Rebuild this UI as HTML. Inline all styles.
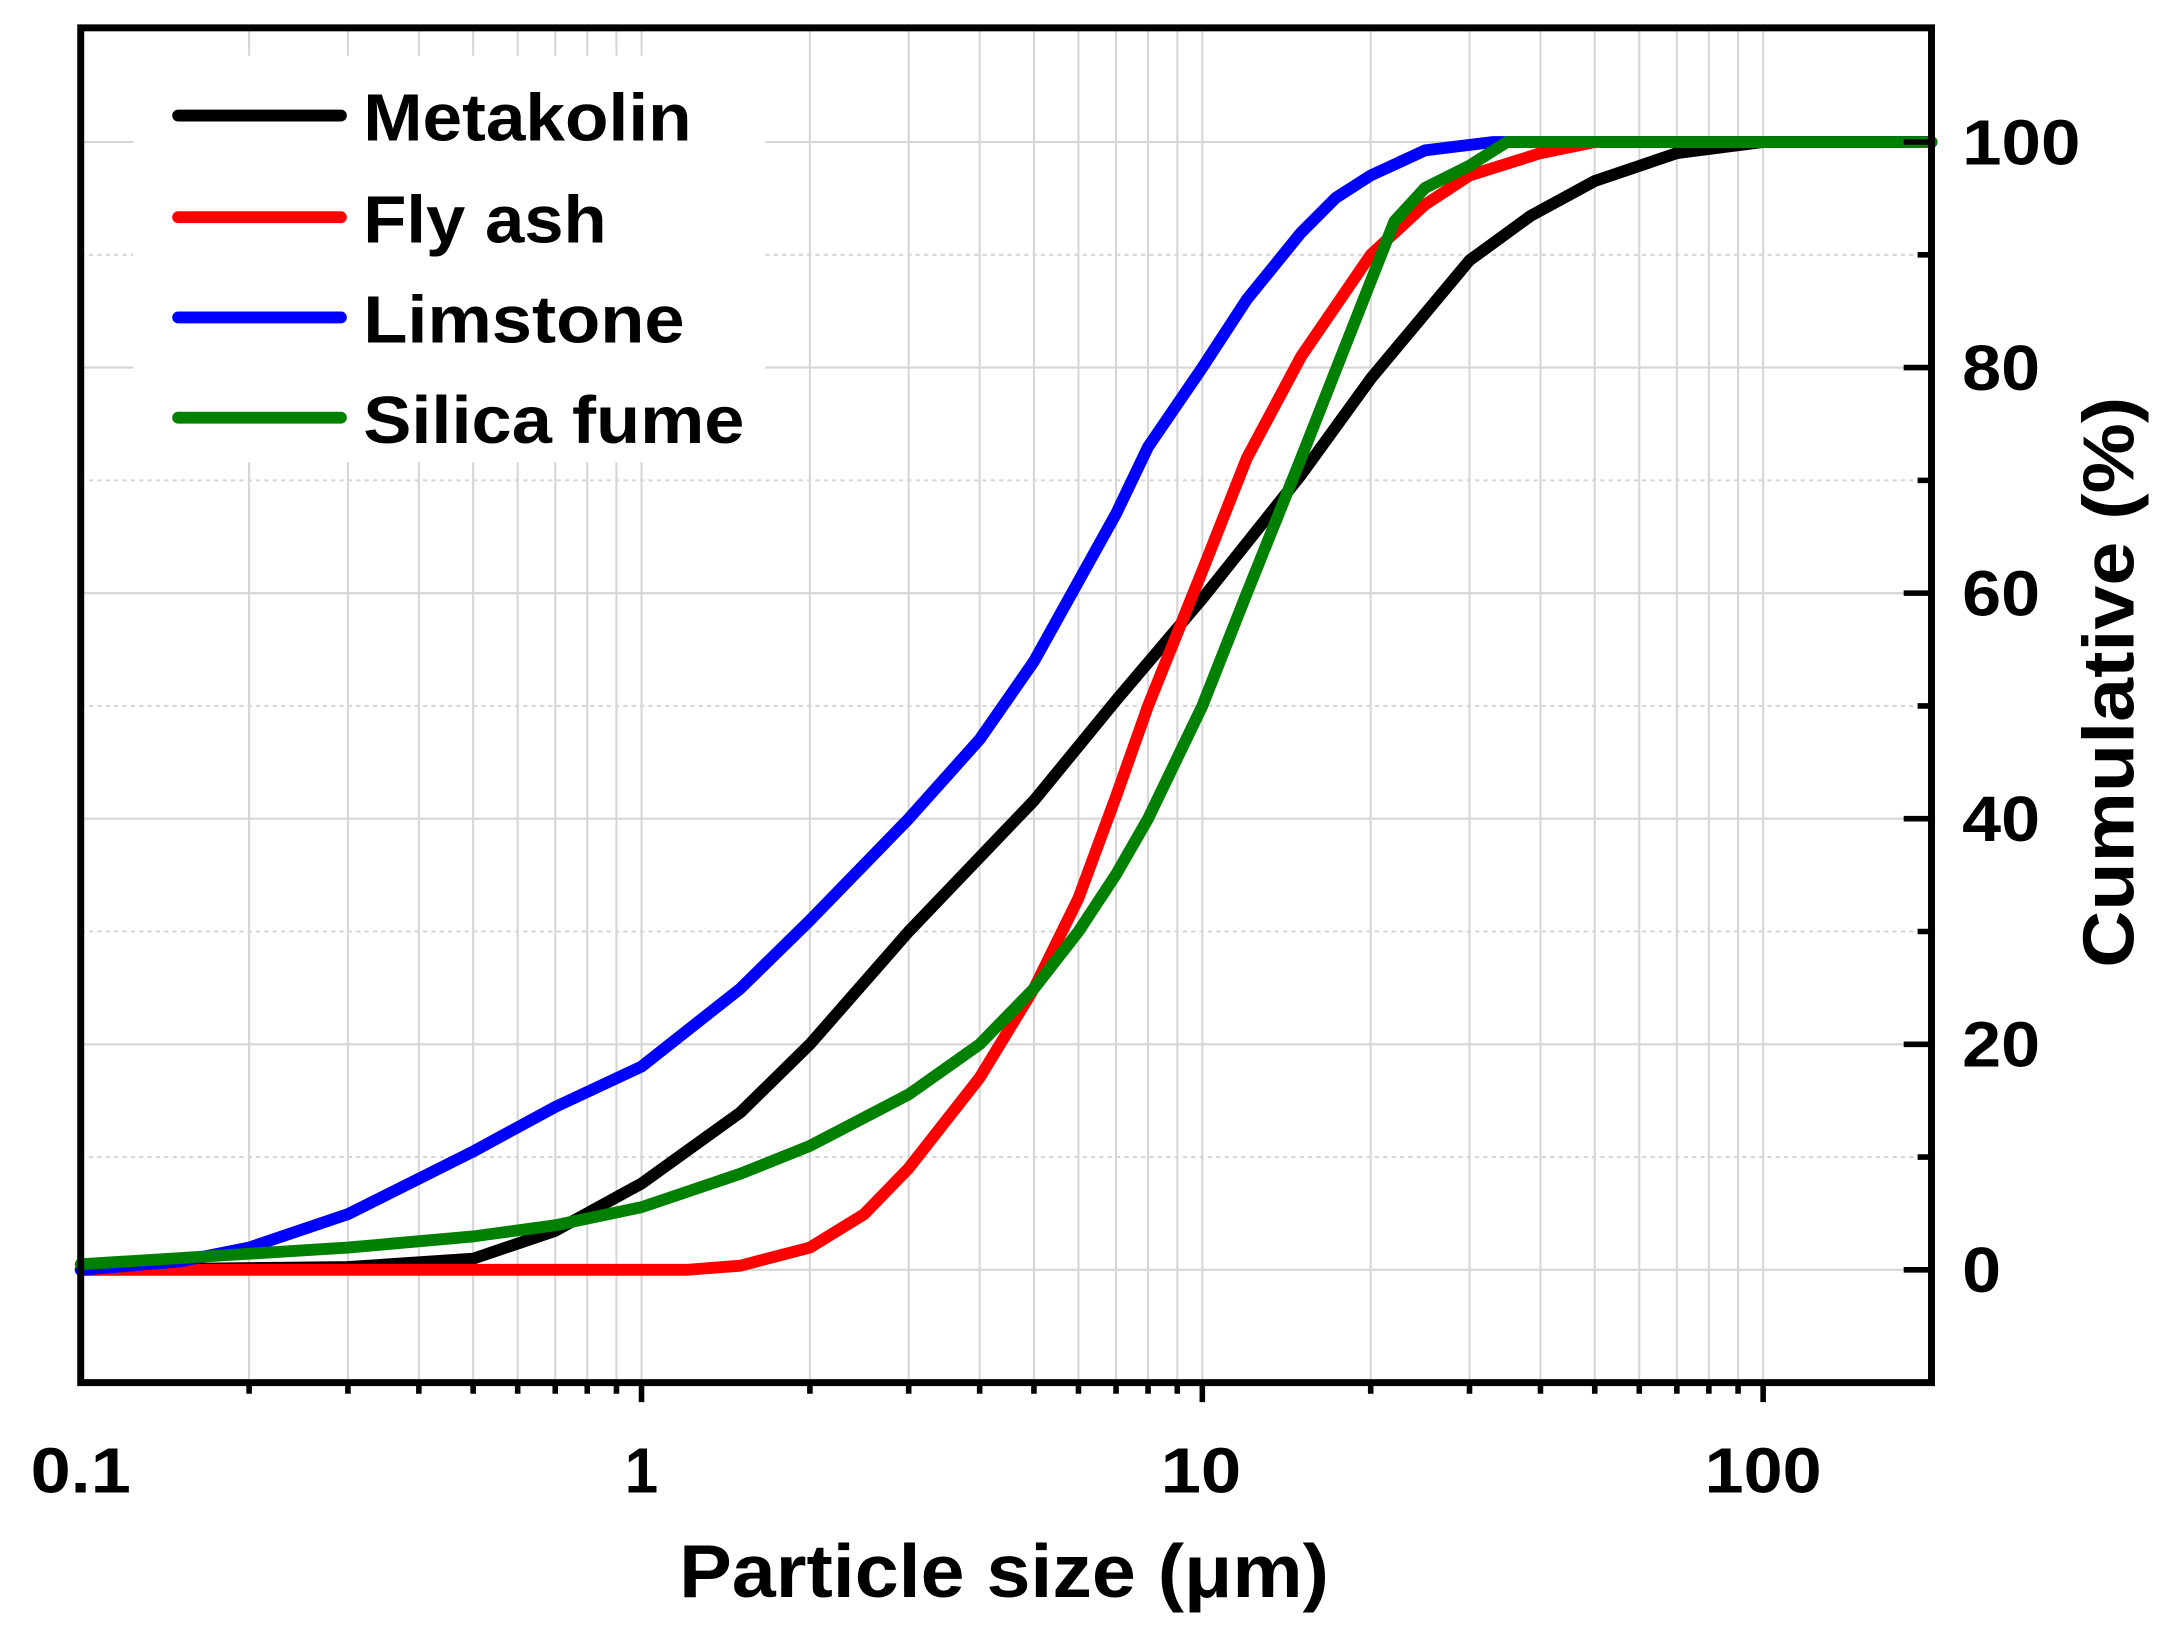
<!DOCTYPE html>
<html><head><style>html,body{margin:0;padding:0;background:#fff}svg{display:block}</style></head>
<body>
<svg width="2182" height="1643" viewBox="0 0 1568 1180" preserveAspectRatio="none" xmlns="http://www.w3.org/2000/svg" font-family="Liberation Sans, Arial, sans-serif" font-weight="bold">
<g stroke="#d6d6d6" stroke-width="1.5">
<path d="M179 20V993M250 20V993M301 20V993M340 20V993M372 20V993M399 20V993M422 20V993M443 20V993M461 20V993M582 20V993M653 20V993M704 20V993M743 20V993M775 20V993M802 20V993M825 20V993M846 20V993M864 20V993M985 20V993M1056 20V993M1107 20V993M1146 20V993M1178 20V993M1205 20V993M1228 20V993M1249 20V993M1267 20V993"/>
<path d="M58 912H1388M58 750H1388M58 588H1388M58 426H1388M58 264H1388M58 102H1388"/>
<path d="M58 831H1388M58 669H1388M58 507H1388M58 345H1388M58 183H1388" stroke-dasharray="3 3"/>
</g>
<rect x="96" y="40" width="454" height="292" fill="#fff"/>
<g fill="none" stroke-width="8.5" stroke-linejoin="round" stroke-linecap="round">
<polyline stroke="#000" points="58,912 250,910 340,904 399,884 461,850 532,799 582,750 653,669 743,575 802,503 864,430 935,341 985,272 1056,187 1100,155 1146,130 1205,110 1267,102 1388,102"/>
<polyline stroke="#ff0000" points="58,912 493,912 532,909 582,896 621,872 653,839 704,774 743,710 775,645 802,572 825,507 864,410 896,329 935,256 985,183 1024,147 1056,126 1107,110 1146,102 1388,102"/>
<polyline stroke="#0000ff" points="58,912 129,906 179,896 250,872 340,827 399,795 461,766 532,710 582,661 653,588 704,531 743,475 802,369 825,321 864,264 896,215 935,167 960,142 985,126 1024,108 1073,102 1388,102"/>
<polyline stroke="#008000" points="58,908 250,896 340,888 399,880 461,867 532,843 582,823 653,786 704,750 743,710 775,669 802,628 825,588 864,507 896,426 935,329 1002,159 1024,135 1056,119 1083,102 1388,102"/>
<line x1="128" y1="83" x2="245" y2="83" stroke="#000"/>
<line x1="128" y1="156" x2="245" y2="156" stroke="#ff0000"/>
<line x1="128" y1="228" x2="245" y2="228" stroke="#0000ff"/>
<line x1="128" y1="300" x2="245" y2="300" stroke="#008000"/>
</g>
<g font-size="48" fill="#000" lengthAdjust="spacingAndGlyphs">
<text x="261" y="101" textLength="236" lengthAdjust="spacingAndGlyphs">Metakolin</text>
<text x="261" y="174" textLength="175" lengthAdjust="spacingAndGlyphs">Fly ash</text>
<text x="261" y="246" textLength="231" lengthAdjust="spacingAndGlyphs">Limstone</text>
<text x="261" y="318" textLength="274" lengthAdjust="spacingAndGlyphs">Silica fume</text>
</g>
<rect x="58" y="20" width="1330" height="973" fill="none" stroke="#000" stroke-width="5"/>
<g stroke="#000" stroke-width="4">
<path d="M1388 912h-20M1388 750h-20M1388 588h-20M1388 426h-20M1388 264h-20M1388 102h-20"/>
<path d="M1388 831h-10M1388 669h-10M1388 507h-10M1388 345h-10M1388 183h-10"/>
<path d="M461 993v14M864 993v14M1267 993v14"/>
<path d="M179 993v8M250 993v8M301 993v8M340 993v8M372 993v8M399 993v8M422 993v8M443 993v8M582 993v8M653 993v8M704 993v8M743 993v8M775 993v8M802 993v8M825 993v8M846 993v8M985 993v8M1056 993v8M1107 993v8M1146 993v8M1178 993v8M1205 993v8M1228 993v8M1249 993v8"/>
</g>
<g font-size="46" fill="#000">
<text x="22" y="1072" textLength="72" lengthAdjust="spacingAndGlyphs">0.1</text>
<text x="449" y="1072" textLength="24" lengthAdjust="spacingAndGlyphs">1</text>
<text x="834" y="1072" textLength="58" lengthAdjust="spacingAndGlyphs">10</text>
<text x="1225" y="1072" textLength="84" lengthAdjust="spacingAndGlyphs">100</text>
</g>
<g font-size="46" fill="#000">
<text x="1410" y="928" textLength="28" lengthAdjust="spacingAndGlyphs">0</text>
<text x="1410" y="766" textLength="56" lengthAdjust="spacingAndGlyphs">20</text>
<text x="1410" y="604" textLength="56" lengthAdjust="spacingAndGlyphs">40</text>
<text x="1410" y="442" textLength="56" lengthAdjust="spacingAndGlyphs">60</text>
<text x="1410" y="280" textLength="56" lengthAdjust="spacingAndGlyphs">80</text>
<text x="1410" y="118" textLength="85" lengthAdjust="spacingAndGlyphs">100</text>
</g>
<text x="488" y="1147" font-size="54" textLength="467" lengthAdjust="spacingAndGlyphs">Particle size (μm)</text>
<text transform="translate(1533,695) rotate(-90)" font-size="52" textLength="410" lengthAdjust="spacingAndGlyphs">Cumulative (%)</text>
</svg>
</body></html>
